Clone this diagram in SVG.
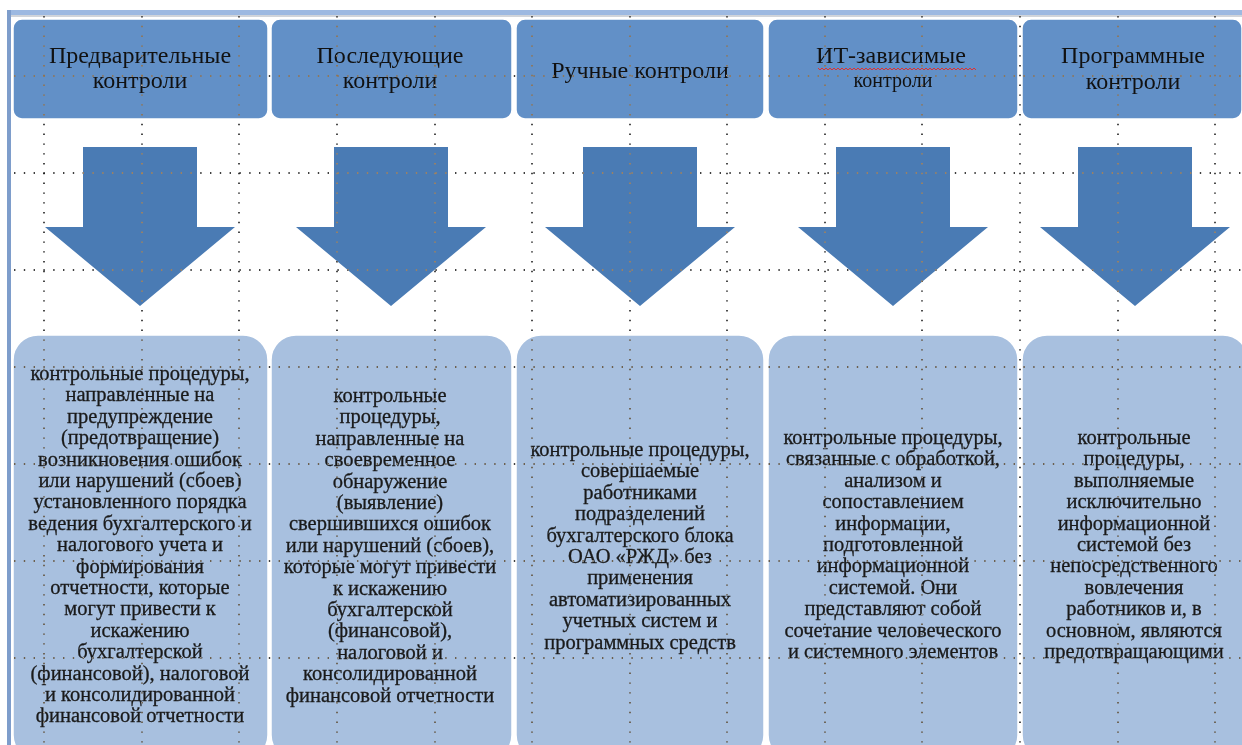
<svg xmlns="http://www.w3.org/2000/svg" width="1242" height="745" viewBox="0 0 1242 745">
<defs>
<style>
.hdr{fill:#6290C7;stroke:#ffffff;stroke-width:1.5}
.body{fill:#A8C0DF;stroke:#ffffff;stroke-width:1.5}
.arr{fill:#4A7BB4}
.ht{font-family:"Liberation Serif","Times New Roman",serif;font-size:24px;fill:#111;text-anchor:middle}
.hs{font-family:"Liberation Serif","Times New Roman",serif;font-size:20px;fill:#111;text-anchor:middle}
.bt{font-family:"Liberation Serif","Times New Roman",serif;font-size:20.5px;fill:#1a1a1a;stroke:#1a1a1a;stroke-width:0.3;text-anchor:middle}
.gv{stroke:#ffffff;stroke-width:1.4;stroke-dasharray:1.4 8.4;fill:none}
.gh{stroke:#ffffff;stroke-width:1.4;stroke-dasharray:1.4 8.4;fill:none}
</style>
</defs>
<rect x="0" y="0" width="1242" height="745" fill="#ffffff"/>
<rect x="10" y="10" width="1232" height="5" fill="#9DB9E1"/>
<rect x="10" y="15" width="1232" height="2" fill="#D0D4DA"/>
<rect x="7" y="10" width="4" height="735" fill="#7E9DCB"/>

<g id="header1"><rect class="hdr" x="13" y="19" width="255" height="100" rx="9"/><text class="ht" x="140" y="63">Предварительные</text><text class="ht" x="140" y="88">контроли</text></g>
<g id="header2"><rect class="hdr" x="271" y="19" width="241" height="100" rx="9"/><text class="ht" x="390" y="63">Последующие</text><text class="ht" x="390" y="88">контроли</text></g>
<g id="header3"><rect class="hdr" x="516" y="19" width="248" height="100" rx="9"/><text class="ht" x="640" y="78">Ручные контроли</text></g>
<g id="header4"><rect class="hdr" x="768" y="19" width="250" height="100" rx="9"/><text class="ht" x="891" y="63">ИТ-зависимые</text><path d="M818 68 l2 2 l2 -2 l2 2 l2 -2 l2 2 l2 -2 l2 2 l2 -2 l2 2 l2 -2 l2 2 l2 -2 l2 2 l2 -2 l2 2 l2 -2 l2 2 l2 -2 l2 2 l2 -2 l2 2 l2 -2 l2 2 l2 -2 l2 2 l2 -2 l2 2 l2 -2 l2 2 l2 -2 l2 2 l2 -2 l2 2 l2 -2 l2 2 l2 -2 l2 2 l2 -2 l2 2 l2 -2 l2 2 l2 -2 l2 2 l2 -2 l2 2 l2 -2 l2 2 l2 -2 l2 2 l2 -2 l2 2 l2 -2 l2 2 l2 -2 l2 2 l2 -2 l2 2 l2 -2 l2 2 l2 -2 l2 2 l2 -2 l2 2 l2 -2 l2 2 l2 -2 l2 2 l2 -2 l2 2 l2 -2 l2 2 l2 -2 l2 2 l2 -2 l2 2 l2 -2 l2 2 l2 -2 l2 2" fill="none" stroke="#E03030" stroke-width="1"/><text class="hs" x="893" y="87">контроли</text></g>
<g id="header5"><rect class="hdr" x="1022" y="19" width="220" height="100" rx="9"/><text class="ht" x="1133" y="63">Программные</text><text class="ht" x="1133" y="89">контроли</text></g>

<g id="connectors">
<path class="arr" d="M83 147H197V227H235L140 306L45 227H83Z"/>
<path class="arr" d="M334 147H448V227H486L391 306L296 227H334Z"/>
<path class="arr" d="M583 147H697V227H735L640 306L545 227H583Z"/>
<path class="arr" d="M836 147H950V227H988L893 306L798 227H836Z"/>
<path class="arr" d="M1078 147H1192V227H1230L1135 306L1040 227H1078Z"/>
</g>

<g id="body1"><rect class="body" x="13" y="335" width="255" height="425" rx="25"/>
<text class="bt" x="140" y="380">контрольные процедуры,</text>
<text class="bt" x="140" y="401.4">направленные на</text>
<text class="bt" x="140" y="422.8">предупреждение</text>
<text class="bt" x="140" y="444.2">(предотвращение)</text>
<text class="bt" x="140" y="465.6">возникновения ошибок</text>
<text class="bt" x="140" y="487">или нарушений (сбоев)</text>
<text class="bt" x="140" y="508.4">установленного порядка</text>
<text class="bt" x="140" y="529.8">ведения бухгалтерского и</text>
<text class="bt" x="140" y="551.2">налогового учета и</text>
<text class="bt" x="140" y="572.6">формирования</text>
<text class="bt" x="140" y="594">отчетности, которые</text>
<text class="bt" x="140" y="615.4">могут привести к</text>
<text class="bt" x="140" y="636.8">искажению</text>
<text class="bt" x="140" y="658.2">бухгалтерской</text>
<text class="bt" x="140" y="679.6">(финансовой), налоговой</text>
<text class="bt" x="140" y="701">и консолидированной</text>
<text class="bt" x="140" y="722.4">финансовой отчетности</text>
</g>
<g id="body2"><rect class="body" x="271" y="335" width="241" height="425" rx="25"/>
<text class="bt" x="390" y="402">контрольные</text>
<text class="bt" x="390" y="423.4">процедуры,</text>
<text class="bt" x="390" y="444.8">направленные на</text>
<text class="bt" x="390" y="466.2">своевременное</text>
<text class="bt" x="390" y="487.6">обнаружение</text>
<text class="bt" x="390" y="509">(выявление)</text>
<text class="bt" x="390" y="530.4">свершившихся ошибок</text>
<text class="bt" x="390" y="551.8">или нарушений (сбоев),</text>
<text class="bt" x="390" y="573.2">которые могут привести</text>
<text class="bt" x="390" y="594.6">к искажению</text>
<text class="bt" x="390" y="616">бухгалтерской</text>
<text class="bt" x="390" y="637.4">(финансовой),</text>
<text class="bt" x="390" y="658.8">налоговой и</text>
<text class="bt" x="390" y="680.2">консолидированной</text>
<text class="bt" x="390" y="701.6">финансовой отчетности</text>
</g>
<g id="body3"><rect class="body" x="516" y="335" width="248" height="425" rx="25"/>
<text class="bt" x="640" y="456">контрольные процедуры,</text>
<text class="bt" x="640" y="477.4">совершаемые</text>
<text class="bt" x="640" y="498.8">работниками</text>
<text class="bt" x="640" y="520.2">подразделений</text>
<text class="bt" x="640" y="541.6">бухгалтерского блока</text>
<text class="bt" x="640" y="563">ОАО «РЖД» без</text>
<text class="bt" x="640" y="584.4">применения</text>
<text class="bt" x="640" y="605.8">автоматизированных</text>
<text class="bt" x="640" y="627.2">учетных систем и</text>
<text class="bt" x="640" y="648.6">программных средств</text>
</g>
<g id="body4"><rect class="body" x="768" y="335" width="250" height="425" rx="25"/>
<text class="bt" x="893" y="444">контрольные процедуры,</text>
<text class="bt" x="893" y="465.4">связанные с обработкой,</text>
<text class="bt" x="893" y="486.8">анализом и</text>
<text class="bt" x="893" y="508.2">сопоставлением</text>
<text class="bt" x="893" y="529.6">информации,</text>
<text class="bt" x="893" y="551">подготовленной</text>
<text class="bt" x="893" y="572.4">информационной</text>
<text class="bt" x="893" y="593.8">системой. Они</text>
<text class="bt" x="893" y="615.2">представляют собой</text>
<text class="bt" x="893" y="636.6">сочетание человеческого</text>
<text class="bt" x="893" y="658">и системного элементов</text>
</g>
<g id="body5"><rect class="body" x="1022" y="335" width="226" height="425" rx="25"/>
<text class="bt" x="1134" y="444">контрольные</text>
<text class="bt" x="1134" y="465.4">процедуры,</text>
<text class="bt" x="1134" y="486.8">выполняемые</text>
<text class="bt" x="1134" y="508.2">исключительно</text>
<text class="bt" x="1134" y="529.6">информационной</text>
<text class="bt" x="1134" y="551">системой без</text>
<text class="bt" x="1134" y="572.4">непосредственного</text>
<text class="bt" x="1134" y="593.8">вовлечения</text>
<text class="bt" x="1134" y="615.2">работников и, в</text>
<text class="bt" x="1134" y="636.6">основном, являются</text>
<text class="bt" x="1134" y="658">предотвращающими</text>
</g>

<g id="grid" style="mix-blend-mode:difference">
<path class="gv" d="M44 16V745M142 16V745M239 16V745M337 16V745M435 16V745M532 16V745M630 16V745M727 16V745M825 16V745M922 16V745M1020 16V745M1118 16V745M1215 16V745"/>
<path class="gh" d="M14 76H1242M14 173H1242M14 270H1242M14 367H1242M14 464H1242M14 561H1242M14 658H1242"/>
</g>
</svg>
